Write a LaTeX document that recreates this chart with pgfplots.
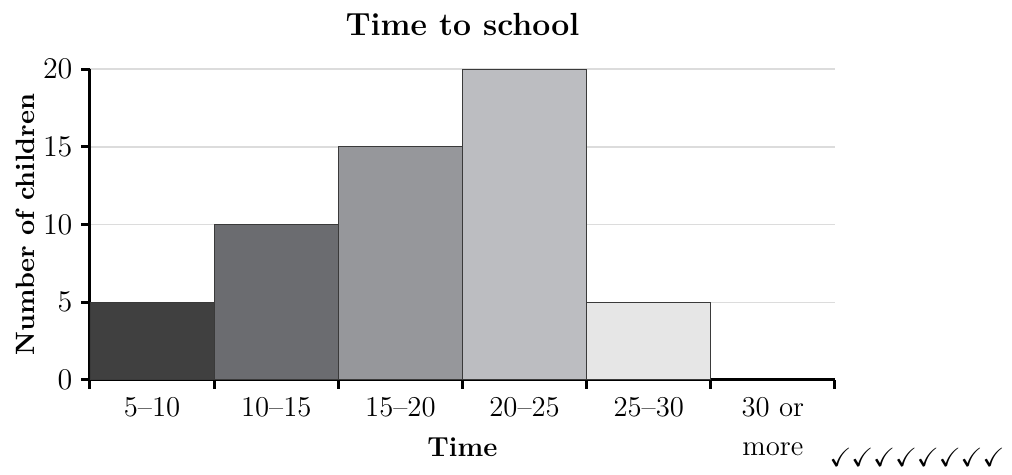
\documentclass[border=0pt]{standalone}
\usepackage{pgfplots}
\pgfplotsset{compat=1.18}
\usepackage{amssymb}
\definecolor{b1}{HTML}{404040}
\definecolor{b2}{HTML}{6B6C70}
\definecolor{b3}{HTML}{96979B}
\definecolor{b4}{HTML}{BCBDC1}
\definecolor{b5}{HTML}{E6E6E6}
\definecolor{edge}{HTML}{3A3A3A}
\definecolor{gridc}{HTML}{DCDCDC}
\begin{document}
\begin{tikzpicture}
\path[use as bounding box] (-36pt,-38pt) rectangle (368.8pt,152pt);
\begin{axis}[
  at={(0,0)}, anchor=origin,
  scale only axis,
  width=298pt, height=124.4pt,
  xmin=0, xmax=6, ymin=0, ymax=20,
  enlargelimits=false,
  axis x line=bottom, axis y line=left,
  axis line style={-, line width=1.2pt, black},
  ytick={0,5,10,15,20},
  xtick={0,...,6},
  x tick label as interval,
  xticklabels={5--10,10--15,15--20,20--25,25--30,{30 or\\more}},
  xticklabel style={align=center, font=\fontsize{11.5}{15.5}\selectfont},
  yticklabel style={font=\fontsize{11.5}{14}\selectfont},
  tick align=outside,
  major tick length=3.5pt,
  tick style={black, line width=1.2pt},
  ymajorgrids,
  grid style={gridc, line width=0.6pt},
  every axis title shift=0pt,
  title={Time to school},
  title style={at={(0.5,1)}, anchor=base, yshift=13.6pt, font=\bfseries\fontsize{12.8}{15}\selectfont},
  xlabel={Time},
  xlabel style={at={(axis description cs:0.5,0)}, anchor=base, yshift=-30.8pt, font=\bfseries\fontsize{11}{14}\selectfont},
  ylabel={Number of children},
  ylabel style={at={(axis description cs:-0.074,0.5)}, anchor=base, rotate=0, font=\bfseries\fontsize{10.6}{13}\selectfont},
]
\addplot[ybar interval, fill=b1, draw=edge, line width=0.5pt] coordinates {(0,5) (1,5)};
\addplot[ybar interval, fill=b2, draw=edge, line width=0.5pt] coordinates {(1,10) (2,10)};
\addplot[ybar interval, fill=b3, draw=edge, line width=0.5pt] coordinates {(2,15) (3,15)};
\addplot[ybar interval, fill=b4, draw=edge, line width=0.5pt] coordinates {(3,20) (4,20)};
\addplot[ybar interval, fill=b5, draw=edge, line width=0.5pt] coordinates {(4,5) (5,5)};
\end{axis}
\node[anchor=base east, inner sep=0pt] at (366pt,-34.8pt) {\fontsize{10.5}{12}\selectfont $\checkmark\checkmark\checkmark\checkmark\checkmark\checkmark\checkmark\checkmark$};
\end{tikzpicture}
\end{document}
